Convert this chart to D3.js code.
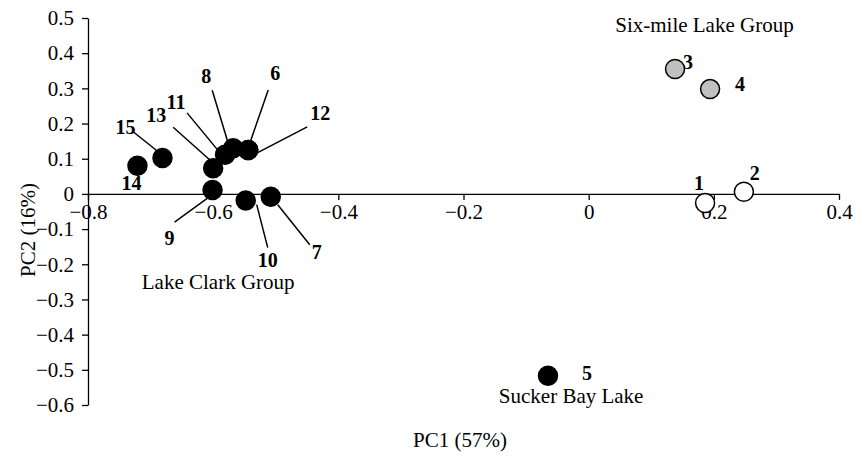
<!DOCTYPE html>
<html>
<head>
<meta charset="utf-8">
<script src="https://cdn.jsdelivr.net/npm/d3@7"></script>
<style>
  html, body { margin: 0; padding: 0; background: #fff; }
  svg { display: block; }
  text { font-family: "Liberation Serif", "Times New Roman", serif; fill: #000; }
</style>
</head>
<body>
<svg id="chart" width="855" height="460"></svg>
<script>
// ---- data ----
const siteIds = ["1","2","3","4","5","6","7","8","9","10","11","12","13","14","15"];
const pc1 = [0.186, 0.248, 0.138, 0.194, -0.065, -0.544, -0.508, -0.568, -0.601, -0.548, -0.581, -0.544, -0.600, -0.721, -0.681];
const pc2 = [-0.026, 0.006, 0.355, 0.298, -0.517, 0.125, -0.008, 0.130, 0.011, -0.019, 0.111, 0.125, 0.073, 0.080, 0.102];
const groups = ["open", "open", "grey", "grey", "black", "black", "black", "black", "black", "black", "black", "black", "black", "black", "black"];
const xTicks = [-0.8, -0.6, -0.4, -0.2, 0, 0.2, 0.4];
const yTicks = [0.5, 0.4, 0.3, 0.2, 0.1, 0, -0.1, -0.2, -0.3, -0.4, -0.5, -0.6];
const groupNames = ["Six-mile Lake Group", "Lake Clark Group", "Sucker Bay Lake"];
const xTitle = "PC1 (57%)";
const yTitle = "PC2 (16%)";

// ---- layout (pixel offsets for labels, relative to each point) ----
const labelLayout = {
  "1":  {dx: -6, dy: -20},
  "2":  {dx: 11, dy: -19},
  "3":  {dx: 13, dy: -7},
  "4":  {dx: 30, dy: -5},
  "5":  {dx: 39, dy: -3},
  "6":  {dx: 27, dy: -77, line: [20, -60, 2, -8]},
  "7":  {dx: 46, dy: 55, line: [7, 8, 39, 48]},
  "8":  {dx: -27, dy: -72, line: [-21, -58, -5, -5]},
  "9":  {dx: -43, dy: 48, line: [-38, 32, -5, 8]},
  "10": {dx: 22, dy: 59, line: [11, 4, 22, 47]},
  "11": {dx: -49, dy: -53, line: [-38, -42, -5, -2]},
  "12": {dx: 72, dy: -37, line: [59, -23, 9, 3]},
  "13": {dx: -57, dy: -53, line: [-40, -41, -3, -8]},
  "14": {dx: -6, dy: 17},
  "15": {dx: -37, dy: -31, line: [-29, -26, -4, -6]}
};
const groupLabelPos = [
  {x: 0.185, y: 0.46},
  {x: -0.592, y: -0.27},
  {x: -0.028, y: -0.593}
];

const fills = {open: "#ffffff", grey: "#c0c0c0", black: "#000000"};

const svg = d3.select("#chart");
const x = d3.scaleLinear().domain([-0.8, 0.4]).range([88, 839]);
const y = d3.scaleLinear().domain([-0.6, 0.5]).range([405, 18]);

const fmt = v => (v < 0 ? "\u2212" : "") + (v === 0 ? "0" : d3.format(".1f")(Math.abs(v)));

// y axis at x = -0.8
const yAxis = d3.axisLeft(y).tickValues(yTicks).tickSize(6).tickSizeOuter(0).tickFormat(fmt).tickPadding(8);
const gy = svg.append("g").attr("transform", `translate(${x(-0.8)},0)`).call(yAxis);
gy.select(".domain").attr("stroke", "#000").attr("stroke-width", 1.3);
gy.selectAll(".tick line").attr("stroke", "#000").attr("stroke-width", 1.3);
gy.selectAll(".tick text").attr("font-size", 21).attr("font-family", "Liberation Serif").attr("fill", "#000");

// x axis at y = 0
const xAxis = d3.axisBottom(x).tickValues(xTicks).tickSize(6).tickSizeOuter(0).tickFormat(fmt).tickPadding(4);
const gx = svg.append("g").attr("transform", `translate(0,${y(0)})`).call(xAxis);
gx.select(".domain").attr("stroke", "#000").attr("stroke-width", 1.3);
gx.selectAll(".tick line").attr("stroke", "#000").attr("stroke-width", 1.3);
gx.selectAll(".tick text").attr("font-size", 21).attr("font-family", "Liberation Serif").attr("fill", "#000");

// axis titles
svg.append("text").attr("x", 460).attr("y", 447).attr("text-anchor", "middle")
  .attr("font-size", 21).text(xTitle);
svg.append("text").attr("transform", `translate(35,230) rotate(-90)`).attr("text-anchor", "middle")
  .attr("font-size", 21).text(yTitle);

// leader lines
const pts = siteIds.map((id, i) => ({id, px: x(pc1[i]), py: y(pc2[i]), g: groups[i]}));
svg.append("g").selectAll("line").data(pts.filter(p => labelLayout[p.id].line)).join("line")
  .attr("x1", p => p.px + labelLayout[p.id].line[0])
  .attr("y1", p => p.py + labelLayout[p.id].line[1])
  .attr("x2", p => p.px + labelLayout[p.id].line[2])
  .attr("y2", p => p.py + labelLayout[p.id].line[3])
  .attr("stroke", "#000").attr("stroke-width", 1.5);

// points
svg.append("g").selectAll("circle").data(pts).join("circle")
  .attr("cx", p => p.px).attr("cy", p => p.py).attr("r", 9.5)
  .attr("fill", p => fills[p.g])
  .attr("stroke", "#000").attr("stroke-width", 1.5);

// point labels
svg.append("g").selectAll("text").data(pts).join("text")
  .attr("x", p => p.px + labelLayout[p.id].dx)
  .attr("y", p => p.py + labelLayout[p.id].dy)
  .attr("dy", "0.35em")
  .attr("text-anchor", "middle")
  .attr("font-size", 20).attr("font-weight", "bold")
  .text(p => p.id);

// group labels
svg.append("g").selectAll("text").data(groupNames).join("text")
  .attr("x", (d, i) => x(groupLabelPos[i].x))
  .attr("y", (d, i) => y(groupLabelPos[i].y))
  .attr("text-anchor", "middle")
  .attr("font-size", 21)
  .text(d => d);
</script>
</body>
</html>
